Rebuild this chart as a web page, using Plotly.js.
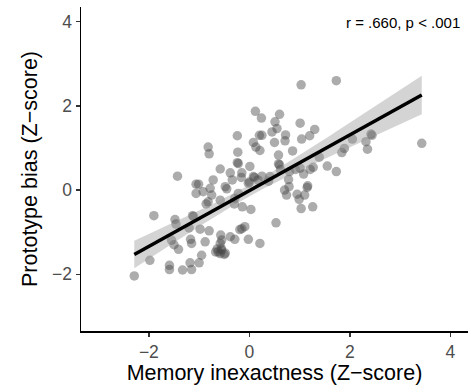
<!DOCTYPE html>
<html>
<head>
<meta charset="utf-8">
<script src="https://cdn.plot.ly/plotly-3.0.1.min.js"></script>
<style>html,body{margin:0;padding:0;background:#fff;}#chart{width:474px;height:387px;}</style>
</head>
<body>
<div id="chart"></div>
<script>
// Memory inexactness (Z-score) per participant
const memoryX = [1.03,1.73,3.43,0.12,0.24,0.60,0.51,0.55,0.45,1.01,1.30,1.20,1.04,0.72,0.71,0.50,0.20,0.25,0.08,0.13,0.21,-0.24,-0.23,-0.24,-0.22,-0.82,-0.80,0.58,0.86,0.01,-0.58,-0.38,-0.15,-0.16,-0.34,-0.48,-0.45,-0.72,-1.06,-1.01,-1.43,-1.06,-0.92,-0.78,-0.75,-0.86,-0.82,-0.58,-0.29,-0.30,-0.14,0.03,-0.22,-0.02,0.00,0.08,0.10,0.17,0.25,0.41,0.38,0.58,0.60,0.62,0.80,0.78,0.70,0.79,0.74,0.95,0.99,1.10,1.16,1.15,1.03,1.26,0.92,1.08,1.01,1.21,1.27,1.39,1.55,1.73,1.89,1.84,2.05,2.32,2.35,2.42,2.44,-1.90,-1.48,-1.46,-1.13,-1.11,-1.20,-0.98,-0.80,-1.55,-1.41,-1.50,-1.17,-1.15,-0.88,-0.95,-1.00,-1.18,-1.15,-1.33,-1.59,-1.59,-1.98,-2.29,-0.57,-0.55,-0.38,-0.29,-0.19,-0.15,-0.09,-0.02,0.21,0.53,-0.58,-0.56,-0.62,-0.67,-0.58,-0.50,-0.55,-0.48,-0.64];
// Prototype bias (Z-score) per participant
const biasY = [2.50,2.60,1.11,1.87,1.71,1.80,1.62,1.46,1.38,1.59,1.44,1.29,1.21,1.31,1.17,1.13,1.30,1.30,1.13,1.02,0.94,1.29,0.90,0.65,0.63,1.02,0.86,0.83,0.93,0.56,0.50,0.41,0.41,0.30,0.24,0.08,0.03,0.24,0.14,0.14,0.33,-0.08,-0.04,0.04,-0.12,-0.33,-0.28,-0.24,-0.20,-0.33,-0.40,-0.46,-0.08,0.16,0.19,0.32,0.30,0.24,0.33,0.32,0.21,0.62,0.60,0.48,0.44,0.25,0.00,0.08,-0.12,-0.10,-0.22,-0.12,0.10,0.06,-0.44,-0.40,0.49,0.38,0.52,0.49,0.54,0.78,0.57,0.44,0.99,0.89,1.21,1.15,0.97,1.33,1.30,-0.61,-0.70,-0.81,-0.61,-0.63,-0.90,-0.93,-0.97,-1.19,-1.41,-1.30,-1.17,-1.27,-1.23,-1.55,-1.73,-1.73,-1.89,-1.90,-1.79,-1.89,-1.67,-2.04,-1.07,-1.19,-1.11,-1.17,-0.94,-0.92,-0.87,-1.17,-1.27,-0.78,-1.27,-1.39,-1.47,-1.47,-1.51,-1.53,-1.43,-1.50,-1.40];
const xTicks = [-2, 0, 2, 4];
const yTicks = [-2, 0, 2, 4];
const statLabel = "r = .660, p < .001";
const xTitle = "Memory inexactness (Z\u2212score)";
const yTitle = "Prototype bias (Z\u2212score)";

// Linear model fit with 95% confidence band (derived from the data above)
const n = memoryX.length;
const mx = memoryX.reduce((a,b)=>a+b,0)/n;
const my = biasY.reduce((a,b)=>a+b,0)/n;
let sxx=0, sxy=0;
for (let i=0;i<n;i++){ sxx+=(memoryX[i]-mx)**2; sxy+=(memoryX[i]-mx)*(biasY[i]-my); }
const b1 = sxy/sxx, b0 = my - b1*mx;
let sse=0;
for (let i=0;i<n;i++){ sse+=(biasY[i]-b0-b1*memoryX[i])**2; }
const s = Math.sqrt(sse/(n-2));
const tq = 1.977;
const xmin = Math.min(...memoryX), xmax = Math.max(...memoryX);
const gx=[], fit=[], lo=[], hi=[];
for (let k=0;k<=80;k++){
  const x = xmin + (xmax-xmin)*k/80;
  const f = b0 + b1*x;
  const se = s*Math.sqrt(1/n + (x-mx)**2/sxx);
  gx.push(x); fit.push(f); lo.push(f - tq*se); hi.push(f + tq*se);
}

const traces = [
  {x: memoryX, y: biasY, mode:'markers', type:'scatter',
   marker:{size:9.5, color:'rgba(70,70,70,0.45)', line:{width:0}}, hoverinfo:'skip'},
  {x: gx.concat(gx.slice().reverse()), y: hi.concat(lo.slice().reverse()),
   type:'scatter', mode:'lines', fill:'toself', fillcolor:'rgba(153,153,153,0.42)',
   line:{width:0}, hoverinfo:'skip'},
  {x: gx, y: fit, type:'scatter', mode:'lines', line:{color:'#000', width:3.6}, hoverinfo:'skip'}
];

const axisCommon = {
  showgrid:false, zeroline:false, showline:true, linecolor:'#000', linewidth:1.5,
  ticks:'outside', ticklen:4, tickwidth:1.3, tickcolor:'#333',
  tickfont:{size:17.5, color:'#4d4d4d', family:'Liberation Sans, Arial, sans-serif'}
};

const layout = {
  width:474, height:387,
  margin:{l:81, r:6.3, t:7, b:56},
  paper_bgcolor:'#fff', plot_bgcolor:'#fff',
  showlegend:false,
  font:{family:'Liberation Sans, Arial, sans-serif', color:'#000'},
  xaxis: Object.assign({}, axisCommon, {range:[-3.35,4.35], tickvals:xTicks,
    title:{text:xTitle, font:{size:21.5, color:'#000'}, standoff:3}}),
  yaxis: Object.assign({}, axisCommon, {range:[-3.35,4.35], tickvals:yTicks,
    title:{text:yTitle, font:{size:21.5, color:'#000'}, standoff:8}}),
  annotations:[{text:statLabel, xref:'paper', yref:'paper', x:0.984, y:0.951,
    xanchor:'right', yanchor:'middle', showarrow:false, font:{size:15, color:'#000'}}]
};

Plotly.newPlot('chart', traces, layout, {staticPlot:true, displayModeBar:false});
</script>
</body>
</html>
